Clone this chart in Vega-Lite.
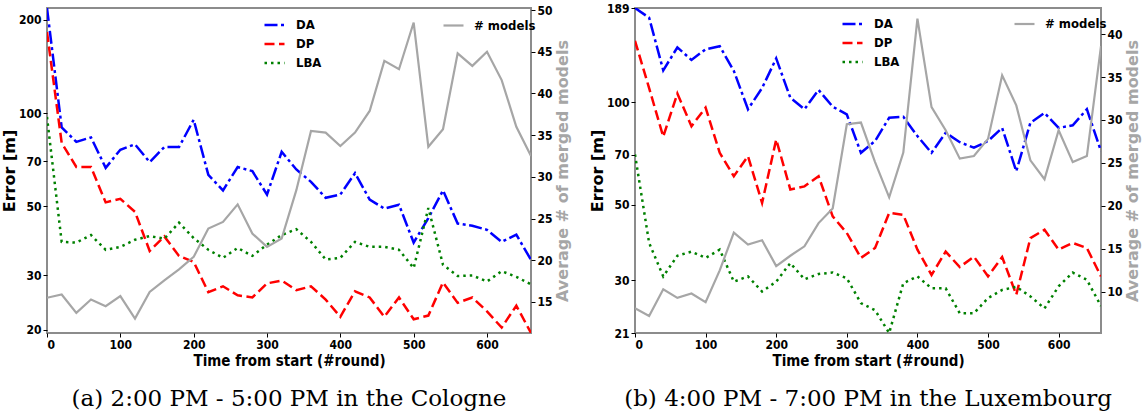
{
  "$schema": "https://vega.github.io/schema/vega-lite/v6.json",
  "background": "white",
  "padding": {"left": 0, "top": 1, "right": 0, "bottom": 0},
  "spacing": 16,
  "datasets": {
    "a": [
      {"series":"DA","round":0,"value":218.6},{"series":"DA","round":20,"value":90},{"series":"DA","round":40,"value":80.8},{"series":"DA","round":60,"value":83.5},{"series":"DA","round":80,"value":66.6},{"series":"DA","round":100,"value":76.2},{"series":"DA","round":120,"value":79.3},{"series":"DA","round":140,"value":69.5},{"series":"DA","round":160,"value":77.7},{"series":"DA","round":180,"value":77.7},{"series":"DA","round":200,"value":95.2},{"series":"DA","round":220,"value":63.2},{"series":"DA","round":240,"value":56.3},{"series":"DA","round":260,"value":67},{"series":"DA","round":280,"value":65},{"series":"DA","round":300,"value":54.6},{"series":"DA","round":320,"value":75},{"series":"DA","round":340,"value":65.8},{"series":"DA","round":360,"value":60},{"series":"DA","round":380,"value":53.3},{"series":"DA","round":400,"value":54.6},{"series":"DA","round":420,"value":64},{"series":"DA","round":440,"value":52.6},{"series":"DA","round":460,"value":49.2},{"series":"DA","round":480,"value":50.6},{"series":"DA","round":500,"value":38.2},{"series":"DA","round":520,"value":45.8},{"series":"DA","round":540,"value":56.3},{"series":"DA","round":560,"value":44},{"series":"DA","round":580,"value":43.3},{"series":"DA","round":600,"value":42},{"series":"DA","round":620,"value":38.4},{"series":"DA","round":640,"value":40.5},{"series":"DA","round":660,"value":33.6},
      {"series":"DP","round":0,"value":182.7},{"series":"DP","round":20,"value":80.2},{"series":"DP","round":40,"value":67},{"series":"DP","round":60,"value":67},{"series":"DP","round":80,"value":51.5},{"series":"DP","round":100,"value":52.9},{"series":"DP","round":120,"value":48},{"series":"DP","round":140,"value":35.9},{"series":"DP","round":160,"value":40},{"series":"DP","round":180,"value":34.6},{"series":"DP","round":200,"value":33.1},{"series":"DP","round":220,"value":26.4},{"series":"DP","round":240,"value":27.6},{"series":"DP","round":260,"value":25.8},{"series":"DP","round":280,"value":25.4},{"series":"DP","round":300,"value":28.2},{"series":"DP","round":320,"value":28.8},{"series":"DP","round":340,"value":26.8},{"series":"DP","round":360,"value":27.6},{"series":"DP","round":380,"value":25},{"series":"DP","round":400,"value":22},{"series":"DP","round":420,"value":26.6},{"series":"DP","round":440,"value":25.4},{"series":"DP","round":460,"value":22},{"series":"DP","round":480,"value":25.4},{"series":"DP","round":500,"value":21.6},{"series":"DP","round":520,"value":22.2},{"series":"DP","round":540,"value":28.4},{"series":"DP","round":560,"value":24.4},{"series":"DP","round":580,"value":25.4},{"series":"DP","round":600,"value":22.9},{"series":"DP","round":620,"value":20.3},{"series":"DP","round":640,"value":23.9},{"series":"DP","round":660,"value":19.5},
      {"series":"LBA","round":0,"value":97.2},{"series":"LBA","round":20,"value":38.4},{"series":"LBA","round":40,"value":38.2},{"series":"LBA","round":60,"value":40.4},{"series":"LBA","round":80,"value":36.2},{"series":"LBA","round":100,"value":37},{"series":"LBA","round":120,"value":39},{"series":"LBA","round":140,"value":40.1},{"series":"LBA","round":160,"value":39.3},{"series":"LBA","round":180,"value":44.3},{"series":"LBA","round":200,"value":39.5},{"series":"LBA","round":220,"value":36.2},{"series":"LBA","round":240,"value":34.1},{"series":"LBA","round":260,"value":36.7},{"series":"LBA","round":280,"value":34.6},{"series":"LBA","round":300,"value":37.6},{"series":"LBA","round":320,"value":40.4},{"series":"LBA","round":340,"value":42.2},{"series":"LBA","round":360,"value":38.4},{"series":"LBA","round":380,"value":33.7},{"series":"LBA","round":400,"value":34.1},{"series":"LBA","round":420,"value":38.4},{"series":"LBA","round":440,"value":37},{"series":"LBA","round":460,"value":37},{"series":"LBA","round":480,"value":36.2},{"series":"LBA","round":500,"value":31.6},{"series":"LBA","round":520,"value":49.4},{"series":"LBA","round":540,"value":32.4},{"series":"LBA","round":560,"value":29.8},{"series":"LBA","round":580,"value":29.9},{"series":"LBA","round":600,"value":28.6},{"series":"LBA","round":620,"value":30.9},{"series":"LBA","round":640,"value":29.6},{"series":"LBA","round":660,"value":28},
      {"series":"# models","round":0,"value":15.5},{"series":"# models","round":20,"value":15.9},{"series":"# models","round":40,"value":13.7},{"series":"# models","round":60,"value":15.3},{"series":"# models","round":80,"value":14.5},{"series":"# models","round":100,"value":15.7},{"series":"# models","round":120,"value":13.0},{"series":"# models","round":140,"value":16.2},{"series":"# models","round":160,"value":17.6},{"series":"# models","round":180,"value":18.9},{"series":"# models","round":200,"value":20.4},{"series":"# models","round":220,"value":23.8},{"series":"# models","round":240,"value":24.6},{"series":"# models","round":260,"value":26.7},{"series":"# models","round":280,"value":23.2},{"series":"# models","round":300,"value":21.6},{"series":"# models","round":320,"value":22.6},{"series":"# models","round":340,"value":28.4},{"series":"# models","round":360,"value":35.5},{"series":"# models","round":380,"value":35.3},{"series":"# models","round":400,"value":33.7},{"series":"# models","round":420,"value":35.3},{"series":"# models","round":440,"value":37.9},{"series":"# models","round":460,"value":43.9},{"series":"# models","round":480,"value":42.9},{"series":"# models","round":500,"value":48.5},{"series":"# models","round":520,"value":33.6},{"series":"# models","round":540,"value":35.7},{"series":"# models","round":560,"value":44.8},{"series":"# models","round":580,"value":43.3},{"series":"# models","round":600,"value":45.0},{"series":"# models","round":620,"value":41.6},{"series":"# models","round":640,"value":36.0},{"series":"# models","round":660,"value":32.5}
    ],
    "b": [
      {"series":"DA","round":0,"value":189},{"series":"DA","round":20,"value":177},{"series":"DA","round":40,"value":124},{"series":"DA","round":60,"value":144.8},{"series":"DA","round":80,"value":133},{"series":"DA","round":100,"value":143},{"series":"DA","round":120,"value":146},{"series":"DA","round":140,"value":123.5},{"series":"DA","round":160,"value":95.3},{"series":"DA","round":180,"value":110},{"series":"DA","round":200,"value":134.4},{"series":"DA","round":220,"value":103},{"series":"DA","round":240,"value":95.3},{"series":"DA","round":260,"value":108.6},{"series":"DA","round":280,"value":97},{"series":"DA","round":300,"value":92},{"series":"DA","round":320,"value":71},{"series":"DA","round":340,"value":76.9},{"series":"DA","round":360,"value":90},{"series":"DA","round":380,"value":90.6},{"series":"DA","round":400,"value":79.5},{"series":"DA","round":420,"value":71},{"series":"DA","round":440,"value":81.3},{"series":"DA","round":460,"value":76.3},{"series":"DA","round":480,"value":73.5},{"series":"DA","round":500,"value":76.9},{"series":"DA","round":520,"value":84},{"series":"DA","round":540,"value":62.7},{"series":"DA","round":560,"value":87},{"series":"DA","round":580,"value":93},{"series":"DA","round":600,"value":84},{"series":"DA","round":620,"value":85.5},{"series":"DA","round":640,"value":95.3},{"series":"DA","round":660,"value":71.8},
      {"series":"DP","round":0,"value":151.4},{"series":"DP","round":20,"value":110},{"series":"DP","round":40,"value":79.2},{"series":"DP","round":60,"value":106},{"series":"DP","round":80,"value":85},{"series":"DP","round":100,"value":96.4},{"series":"DP","round":120,"value":71},{"series":"DP","round":140,"value":60.6},{"series":"DP","round":160,"value":69.4},{"series":"DP","round":180,"value":50.6},{"series":"DP","round":200,"value":77.7},{"series":"DP","round":220,"value":55.4},{"series":"DP","round":240,"value":56.6},{"series":"DP","round":260,"value":60.6},{"series":"DP","round":280,"value":46.2},{"series":"DP","round":300,"value":41.3},{"series":"DP","round":320,"value":34.9},{"series":"DP","round":340,"value":37.3},{"series":"DP","round":360,"value":47.3},{"series":"DP","round":380,"value":46.7},{"series":"DP","round":400,"value":36.9},{"series":"DP","round":420,"value":31.1},{"series":"DP","round":440,"value":36.4},{"series":"DP","round":460,"value":32.8},{"series":"DP","round":480,"value":35.2},{"series":"DP","round":500,"value":30.8},{"series":"DP","round":520,"value":35.1},{"series":"DP","round":540,"value":27.2},{"series":"DP","round":560,"value":39.9},{"series":"DP","round":580,"value":42.2},{"series":"DP","round":600,"value":36.9},{"series":"DP","round":620,"value":38.6},{"series":"DP","round":640,"value":37.3},{"series":"DP","round":660,"value":30.8},
      {"series":"LBA","round":0,"value":70.2},{"series":"LBA","round":20,"value":38.6},{"series":"LBA","round":40,"value":30.8},{"series":"LBA","round":60,"value":35.4},{"series":"LBA","round":80,"value":36.4},{"series":"LBA","round":100,"value":34.9},{"series":"LBA","round":120,"value":36.9},{"series":"LBA","round":140,"value":29.7},{"series":"LBA","round":160,"value":30.8},{"series":"LBA","round":180,"value":27.8},{"series":"LBA","round":200,"value":29.7},{"series":"LBA","round":220,"value":33.7},{"series":"LBA","round":240,"value":30.2},{"series":"LBA","round":260,"value":31.3},{"series":"LBA","round":280,"value":31.6},{"series":"LBA","round":300,"value":30.4},{"series":"LBA","round":320,"value":25.7},{"series":"LBA","round":340,"value":24.5},{"series":"LBA","round":360,"value":21},{"series":"LBA","round":380,"value":29.4},{"series":"LBA","round":400,"value":30.8},{"series":"LBA","round":420,"value":28.4},{"series":"LBA","round":440,"value":28.4},{"series":"LBA","round":460,"value":24},{"series":"LBA","round":480,"value":24},{"series":"LBA","round":500,"value":26.6},{"series":"LBA","round":520,"value":28.1},{"series":"LBA","round":540,"value":28.7},{"series":"LBA","round":560,"value":26.9},{"series":"LBA","round":580,"value":24.8},{"series":"LBA","round":600,"value":28.8},{"series":"LBA","round":620,"value":31.6},{"series":"LBA","round":640,"value":30.1},{"series":"LBA","round":660,"value":25.2},
      {"series":"# models","round":0,"value":8.1},{"series":"# models","round":20,"value":7.2},{"series":"# models","round":40,"value":10.3},{"series":"# models","round":60,"value":9.3},{"series":"# models","round":80,"value":9.8},{"series":"# models","round":100,"value":8.8},{"series":"# models","round":120,"value":12.5},{"series":"# models","round":140,"value":16.9},{"series":"# models","round":160,"value":15.5},{"series":"# models","round":180,"value":16.0},{"series":"# models","round":200,"value":13.0},{"series":"# models","round":220,"value":14.2},{"series":"# models","round":240,"value":15.3},{"series":"# models","round":260,"value":18.0},{"series":"# models","round":280,"value":19.7},{"series":"# models","round":300,"value":29.5},{"series":"# models","round":320,"value":29.7},{"series":"# models","round":340,"value":25.1},{"series":"# models","round":360,"value":21.0},{"series":"# models","round":380,"value":26.2},{"series":"# models","round":400,"value":41.8},{"series":"# models","round":420,"value":31.5},{"series":"# models","round":440,"value":28.8},{"series":"# models","round":460,"value":25.5},{"series":"# models","round":480,"value":25.8},{"series":"# models","round":500,"value":27.8},{"series":"# models","round":520,"value":35.2},{"series":"# models","round":540,"value":31.7},{"series":"# models","round":560,"value":25.3},{"series":"# models","round":580,"value":23.1},{"series":"# models","round":600,"value":28.8},{"series":"# models","round":620,"value":25.1},{"series":"# models","round":640,"value":25.8},{"series":"# models","round":660,"value":38.6}
    ]
  },
  "hconcat": [
    {
      "width": 484,
      "height": 325,
      "data": {"name": "a"},
      "title": {"text": "(a) 2:00 PM - 5:00 PM in the Cologne", "orient": "bottom", "anchor": "middle", "font": "DejaVu Serif", "fontSize": 23, "fontWeight": "normal", "color": "black", "offset": 20},
      "layer": [
        {
          "transform": [{"filter": "datum.series != '# models'"}],
          "mark": {"type": "line", "strokeWidth": 2.5, "clip": true},
          "encoding": {
            "x": {"field": "round", "type": "quantitative", "scale": {"domain": [0, 660], "nice": false, "zero": false},
                  "axis": {"title": "Time from start (#round)", "values": [0, 100, 200, 300, 400, 500, 600], "titleFont": "DejaVu Sans Condensed", "titleFontSize": 15, "titlePadding": 3}},
            "y": {"field": "value", "type": "quantitative", "scale": {"type": "log", "domain": [19.5, 218.6], "nice": false},
                  "axis": {"title": "Error [m]", "values": [20, 30, 50, 70, 100, 200], "format": "d"}},
            "color": {"field": "series", "type": "nominal", "scale": {"domain": ["DA", "DP", "LBA"], "range": ["#0000ff", "#ff0000", "#008000"]},
                      "legend": {"title": null, "orient": "none", "legendX": 216, "legendY": 5.5, "symbolType": "stroke", "symbolSize": 400, "symbolStrokeWidth": 2.5, "labelOffset": 10, "rowPadding": 0, "padding": 0}},
            "strokeDash": {"field": "series", "type": "nominal", "scale": {"domain": ["DA", "DP", "LBA"], "range": [[13, 3.5, 3, 3.5], [10, 4.5], [2.5, 4]]},
                      "legend": {"title": null, "orient": "none", "legendX": 216, "legendY": 5.5, "symbolType": "stroke", "symbolSize": 400, "symbolStrokeWidth": 2.5, "labelOffset": 10, "rowPadding": 0, "padding": 0}}
          }
        },
        {
          "transform": [{"filter": "datum.series == '# models'"}],
          "mark": {"type": "line", "strokeWidth": 2.2, "clip": true},
          "encoding": {
            "x": {"field": "round", "type": "quantitative"},
            "y": {"field": "value", "type": "quantitative", "scale": {"domain": [11.28, 50.24], "nice": false, "zero": false},
                  "axis": {"orient": "right", "title": "Average # of merged models", "titleColor": "#a6a6a6", "titleAngle": -90, "titleBaseline": "top", "titlePadding": 2, "values": [15, 20, 25, 30, 35, 40, 45, 50]}},
            "color": {"field": "series", "type": "nominal", "scale": {"domain": ["# models"], "range": ["#a6a6a6"]},
                      "legend": {"title": null, "orient": "none", "legendX": 395, "legendY": 6, "symbolType": "stroke", "symbolSize": 400, "symbolStrokeWidth": 2.2, "labelOffset": 9, "padding": 0}}
          }
        }
      ],
      "resolve": {"scale": {"y": "independent", "color": "independent", "strokeDash": "independent"}}
    },
    {
      "width": 466,
      "height": 325,
      "data": {"name": "b"},
      "title": {"text": "(b) 4:00 PM - 7:00 PM in the Luxembourg", "orient": "bottom", "anchor": "middle", "font": "DejaVu Serif", "fontSize": 23, "fontWeight": "normal", "color": "black", "offset": 20},
      "layer": [
        {
          "transform": [{"filter": "datum.series != '# models'"}],
          "mark": {"type": "line", "strokeWidth": 2.5, "clip": true},
          "encoding": {
            "x": {"field": "round", "type": "quantitative", "scale": {"domain": [0, 660], "nice": false, "zero": false},
                  "axis": {"title": "Time from start (#round)", "values": [0, 100, 200, 300, 400, 500, 600], "titleFont": "DejaVu Sans Condensed", "titleFontSize": 15, "titlePadding": 3}},
            "y": {"field": "value", "type": "quantitative", "scale": {"type": "log", "domain": [21, 189], "nice": false},
                  "axis": {"title": "Error [m]", "values": [21, 30, 50, 70, 100, 189], "format": "d"}},
            "color": {"field": "series", "type": "nominal", "scale": {"domain": ["DA", "DP", "LBA"], "range": ["#0000ff", "#ff0000", "#008000"]},
                      "legend": {"title": null, "orient": "none", "legendX": 206, "legendY": 4.5, "symbolType": "stroke", "symbolSize": 400, "symbolStrokeWidth": 2.5, "labelOffset": 10, "rowPadding": 0, "padding": 0}},
            "strokeDash": {"field": "series", "type": "nominal", "scale": {"domain": ["DA", "DP", "LBA"], "range": [[13, 3.5, 3, 3.5], [10, 4.5], [2.5, 4]]},
                      "legend": {"title": null, "orient": "none", "legendX": 206, "legendY": 4.5, "symbolType": "stroke", "symbolSize": 400, "symbolStrokeWidth": 2.5, "labelOffset": 10, "rowPadding": 0, "padding": 0}}
          }
        },
        {
          "transform": [{"filter": "datum.series == '# models'"}],
          "mark": {"type": "line", "strokeWidth": 2.2, "clip": true},
          "encoding": {
            "x": {"field": "round", "type": "quantitative"},
            "y": {"field": "value", "type": "quantitative", "scale": {"domain": [5.21, 43.03], "nice": false, "zero": false},
                  "axis": {"orient": "right", "title": "Average # of merged models", "titleColor": "#a6a6a6", "titleAngle": -90, "titleBaseline": "top", "titlePadding": 2, "values": [10, 15, 20, 25, 30, 35, 40]}},
            "color": {"field": "series", "type": "nominal", "scale": {"domain": ["# models"], "range": ["#a6a6a6"]},
                      "legend": {"title": null, "orient": "none", "legendX": 378, "legendY": 4.5, "symbolType": "stroke", "symbolSize": 400, "symbolStrokeWidth": 2.2, "labelOffset": 9, "padding": 0}}
          }
        }
      ],
      "resolve": {"scale": {"y": "independent", "color": "independent", "strokeDash": "independent"}}
    }
  ],
  "config": {
    "view": {"stroke": "#8c8c8c", "strokeWidth": 2},
    "axis": {
      "grid": false, "domain": false,
      "tickColor": "black", "tickSize": 4, "tickWidth": 1,
      "labelFont": "DejaVu Sans Condensed", "labelFontWeight": "bold", "labelFontSize": 12, "labelColor": "black", "labelPadding": 2,
      "titleFont": "DejaVu Sans", "titleFontWeight": "bold", "titleFontSize": 16, "titleColor": "black", "titlePadding": 1
    },
    "legend": {"labelFont": "DejaVu Sans Condensed", "labelFontWeight": "bold", "labelFontSize": 13, "labelColor": "black"}
  }
}
